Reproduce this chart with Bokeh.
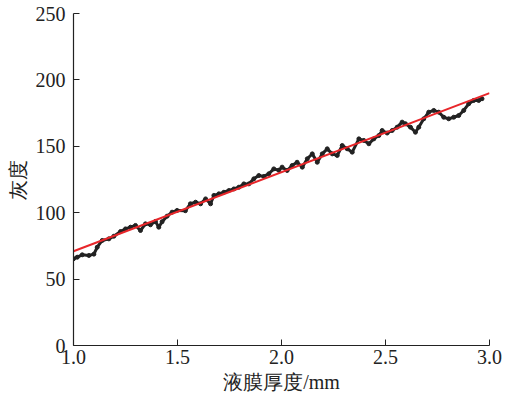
from bokeh.plotting import figure
from bokeh.models import Range1d, FixedTicker, PrintfTickFormatter, ColumnDataSource
from bokeh.embed import file_html
from bokeh.resources import INLINE

# Film thickness (mm) and measured gray level
thickness = [1.000, 1.018, 1.042, 1.074, 1.098, 1.114, 1.138, 1.170, 1.194, 1.226,
             1.250, 1.274, 1.298, 1.322, 1.346, 1.370, 1.394, 1.410, 1.426, 1.450,
             1.474, 1.498, 1.538, 1.562, 1.587, 1.611, 1.635, 1.659, 1.675, 1.699,
             1.723, 1.747, 1.771, 1.795, 1.819, 1.843, 1.867, 1.891, 1.915, 1.939,
             1.963, 1.987, 2.003, 2.027, 2.051, 2.075, 2.100, 2.124, 2.148, 2.172,
             2.196, 2.220, 2.244, 2.268, 2.292, 2.316, 2.340, 2.372, 2.396, 2.420,
             2.444, 2.468, 2.484, 2.508, 2.532, 2.556, 2.580, 2.596, 2.620, 2.644,
             2.660, 2.684, 2.708, 2.732, 2.756, 2.780, 2.804, 2.828, 2.852, 2.876,
             2.900, 2.924, 2.948, 2.964]
gray = [65.3, 66.5, 68.3, 67.8, 68.8, 74.0, 79.1, 80.3, 82.3, 85.8,
        87.8, 89.1, 90.4, 86.6, 91.6, 90.9, 93.4, 89.1, 93.2, 97.4,
        100.4, 101.7, 101.5, 106.7, 107.9, 106.7, 110.4, 106.7, 113.0, 114.2,
        115.4, 116.7, 117.9, 119.2, 121.7, 121.7, 125.5, 128.0, 127.3, 129.3,
        133.0, 132.0, 134.3, 131.8, 135.5, 138.0, 134.3, 140.6, 144.3, 138.0,
        144.3, 148.1, 144.3, 143.1, 150.6, 148.1, 145.6, 155.6, 154.4, 151.9,
        155.6, 158.1, 161.9, 160.0, 161.9, 164.4, 168.2, 167.0, 164.4, 160.6,
        164.4, 170.7, 175.7, 177.0, 175.7, 171.9, 170.7, 171.9, 173.2, 177.0,
        182.0, 184.5, 184.5, 185.8]

# Linear fit line
fit_x = [1.0, 3.0]
fit_y = [71.0, 190.0]

x_ticks = [1.0, 1.5, 2.0, 2.5, 3.0]
y_ticks = [0, 50, 100, 150, 200, 250]

FONT = "Liberation Serif"

p = figure(width=508, height=400, x_range=Range1d(1.0, 3.0), y_range=Range1d(0, 250),
           output_backend="svg", toolbar_location=None,
           min_border_left=73, min_border_right=19, min_border_top=13, min_border_bottom=55)

src = ColumnDataSource(dict(x=thickness, y=gray))
p.line("x", "y", source=src, line_color="#222222", line_width=3)
p.scatter("x", "y", source=src, size=4, fill_color="#222222", line_color="#222222")
p.line(fit_x, fit_y, line_color="#e8262a", line_width=2)

p.outline_line_color = None
p.xgrid.grid_line_color = None
p.ygrid.grid_line_color = None

p.xaxis.ticker = FixedTicker(ticks=x_ticks)
p.xaxis.formatter = PrintfTickFormatter(format="%.1f")
p.yaxis.ticker = FixedTicker(ticks=y_ticks)

for ax in (p.xaxis[0], p.yaxis[0]):
    ax.major_tick_in = 6
    ax.major_tick_out = 0
    ax.minor_tick_line_color = None
    ax.axis_line_color = "#222222"
    ax.axis_line_width = 1.2
    ax.major_tick_line_color = "#222222"
    ax.major_label_text_font = FONT
    ax.major_label_text_font_size = "20px"
    ax.major_label_text_color = "#222222"
    ax.axis_label_text_font = FONT
    ax.axis_label_text_font_size = "20px"
    ax.axis_label_text_font_style = "normal"
    ax.axis_label_text_color = "#222222"

p.xaxis.axis_label = "液膜厚度/mm"
p.yaxis.axis_label = "灰度"
p.xaxis.major_label_standoff = 4
p.yaxis.major_label_standoff = 8
p.xaxis.axis_label_standoff = 4
p.yaxis.axis_label_standoff = 4

open("out.html", "w").write(file_html(p, INLINE))
